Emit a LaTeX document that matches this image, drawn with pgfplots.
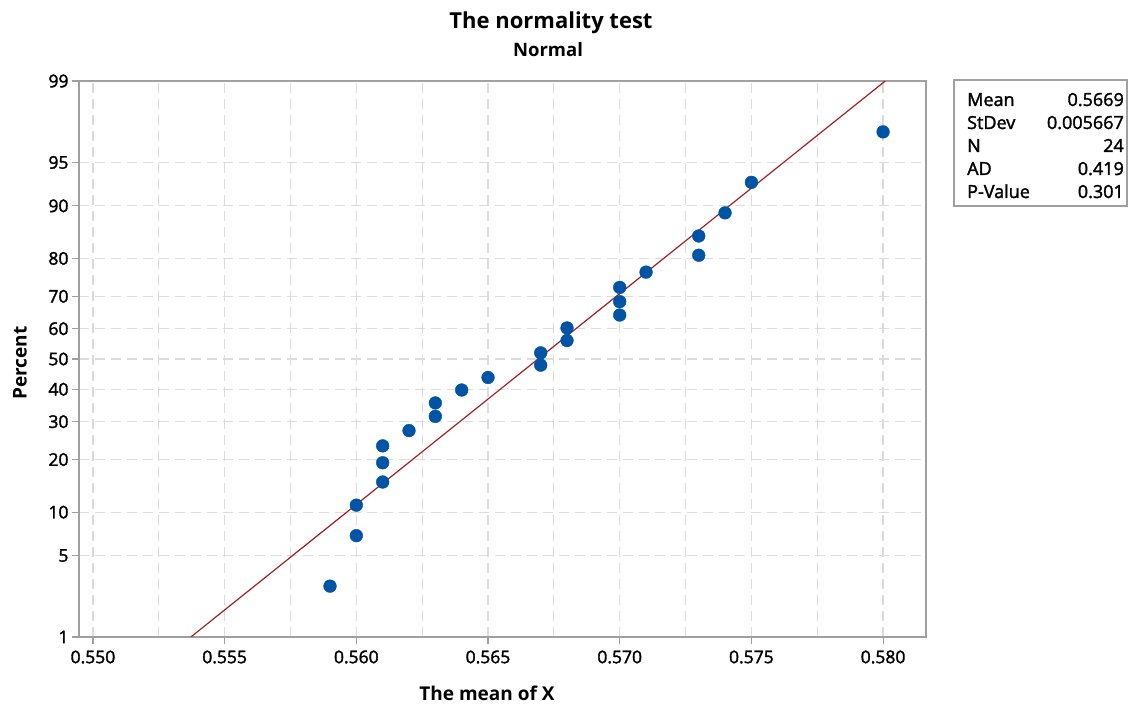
\documentclass[border=0pt]{standalone}
\usepackage{fontspec}
\setmainfont{Open Sans}
\newfontfamily\sbfont{Open Sans}[FakeBold=1.8]
\usepackage{pgfplots}
\pgfplotsset{compat=1.18}
\definecolor{mtblue}{RGB}{0,84,166}
\definecolor{mtred}{RGB}{164,32,36}
\definecolor{axgray}{RGB}{160,160,160}
\definecolor{gridgray}{RGB}{220,220,220}
\begin{document}
\begin{tikzpicture}
\useasboundingbox (0,0) rectangle (1134bp,705bp);
\begin{axis}[
  at={(79bp,68bp)}, anchor=south west,
  scale only axis, width=847bp, height=556bp,
  xmin=0.54947, xmax=0.58163,
  ymin=-2.3263, ymax=2.3263,
  xtick={0.550,0.555,0.560,0.565,0.570,0.575,0.580},
  xticklabels={0.550,0.555,0.560,0.565,0.570,0.575,0.580},
  minor xtick={0.5525,0.5575,0.5625,0.5675,0.5725,0.5775},
  ytick={-2.3263,-1.6449,-1.2816,-0.8416,-0.5244,-0.2533,0,0.2533,0.5244,0.8416,1.2816,1.6449,2.3263},
  yticklabels={1,5,10,20,30,40,50,60,70,80,90,95,99},
  tick align=outside, major tick length=7bp, minor tick length=0pt,
  xtick pos=left, ytick pos=left,
  xmajorgrids, xminorgrids, ymajorgrids,
  major grid style={gridgray, line width=1.2bp, dash pattern=on 10bp off 6bp},
  minor grid style={gridgray, line width=1.2bp, dash pattern=on 10bp off 6bp},
  axis line style={axgray, line width=1.3bp},
  tick style={axgray, line width=1.1bp},
  ticklabel style={font=\sbfont\fontsize{17.5bp}{20bp}\selectfont, text=black},
  xticklabel style={yshift=-3bp},
  /pgf/number format/assume math mode=true,
]
\addplot[mtred, line width=1.2bp] coordinates {(0.553717,-2.3263) (0.580083,2.3263)};
\addplot[only marks, mark=*, mark size=6.4bp, mtblue] coordinates {
(0.559,-1.9005)
(0.560,-1.4783) (0.560,-1.2230)
(0.561,-1.0294) (0.561,-0.8683) (0.561,-0.7270)
(0.562,-0.5990)
(0.563,-0.4801) (0.563,-0.3677)
(0.564,-0.2597)
(0.565,-0.1547)
(0.567,-0.0514) (0.567,0.0514)
(0.568,0.1547) (0.568,0.2597)
(0.570,0.3677) (0.570,0.4801) (0.570,0.5990)
(0.571,0.7270)
(0.573,0.8683) (0.573,1.0294)
(0.574,1.2230)
(0.575,1.4783)
(0.580,1.9005)
};
\end{axis}
% titles and labels
\node[anchor=base, font=\fontsize{22bp}{26bp}\selectfont\bfseries] at (551bp,676bp) {The normality test};
\node[anchor=base, font=\fontsize{18.5bp}{22bp}\selectfont\bfseries] at (548bp,648bp) {Normal};
\node[anchor=base, font=\fontsize{19bp}{22bp}\selectfont\bfseries] at (487bp,4.5bp) {The mean of X};
\node[anchor=base, rotate=90, font=\fontsize{19bp}{22bp}\selectfont\bfseries] at (26.5bp,342bp) {Percent};
% statistics box
\draw[axgray, line width=1.1bp] (954bp,499bp) rectangle (1127bp,625bp);
\begin{scope}[every node/.style={font=\sbfont\fontsize{18bp}{22bp}\selectfont, inner sep=0pt}]
\node[anchor=base west] at (967bp,599bp) {Mean};
\node[anchor=base east] at (1124bp,599bp) {0.5669};
\node[anchor=base west] at (967bp,576bp) {StDev};
\node[anchor=base east] at (1124bp,576bp) {0.005667};
\node[anchor=base west] at (967bp,553bp) {N};
\node[anchor=base east] at (1124bp,553bp) {24};
\node[anchor=base west] at (967bp,530bp) {AD};
\node[anchor=base east] at (1124bp,530bp) {0.419};
\node[anchor=base west] at (967bp,507bp) {P-Value};
\node[anchor=base east] at (1124bp,507bp) {0.301};
\end{scope}
\end{tikzpicture}
\end{document}
